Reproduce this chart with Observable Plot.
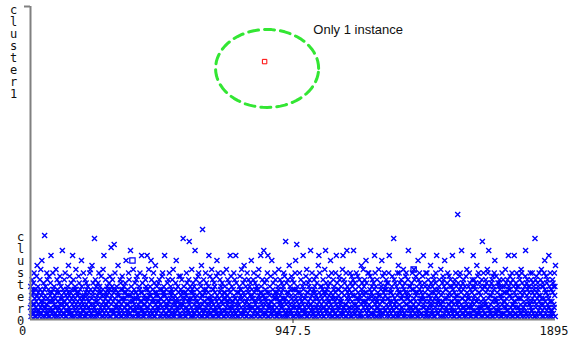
<!DOCTYPE html>
<html><head><meta charset="utf-8">
<script src="https://cdn.jsdelivr.net/npm/d3@7"></script>
<script src="https://cdn.jsdelivr.net/npm/@observablehq/plot@0.6"></script>
<style>html,body{margin:0;padding:0;background:#fff;}</style>
</head><body><div id="chart"></div>
<script>
// ---- data ----
const instanceCount = 1896;
const xTicks = [0, 947.5, 1895];
const xTickLabels = ["0", "947.5", "1895"];
const clusters = ["cluster0", "cluster1"];
// jitter height level (base 36) of every cluster0 instance, read row by row
const cluster0Levels = [
 "3a0571c249 8b1e406293 05d7g21a84 6201c93f57 1h48052b36 9o07a3142e 4c61095d28 07b3i52816 2e590a4173 61f038c925",
 "5083b1d462 a2706j4195 38c15e0274 0946a28g13 7d25180b69 14i07c3592 6a09f41837 2578d0b164 9031ha5276 4e62073c18",
 "0b49176a35 8352e0f914 16g078b243 3n90c52a61 5704b18e29 a1638d4072 29f05i1374 6c82047a95 1358b09d26 0k47a2c159",
 "82l16e3094 4a0378g512 7513c0b946 0d29615a83 36b08h4271 9042e7c153 1j73a08526 5f20946b38 28c61d0734 610a9e5382",
 "3i58b02146 07d41c9a63 5i29360f17 84a07h2c51 1936e05b28 0g4718a352 72b35c0964 46019d3e87 2a58i07143 9163b04c25",
 "5e0826a179 38c40f1625 0714b9h532 62a358d014 1d9073c846 4n52a18063 807e3b2159 2c6m415a08 63f0928b17 0a41j65c32",
 "79250d3e14 1b836a0g72 4q071c5928 52e39b0416 08a6i214d5 3617f05c92 940b2a8361 2d5h710e43 6038c19a25 15b74e0682",
 "0a82613f57 47c0519b36 8i23d05a14 3590e72c61 6i1b408352 2084a6d917 93f1605b28 1g7c342a05 50e6198c43 4a27b03h69",
 "7063c1e582 2b49051a36 9d13f72068 0i5a842c71 37j06b1495 61c28e0i34 0847a35d12 5h1039b726 42e8c61073 8061a9f524",
 "1c75308b46 39a0e26d51 6m04b1827c 0853g14a29 27d61c0395 4b093e7h61 9l52a08314 1e3806c725 50a4i92b16 3627d10f48",
 "08b53a1c94 6j2407e318 2519c0a863 7d03b4261g 1i58e03a27 4a6193c058 03f72j8b14 9265a0d371 5b1h840e26 370c29a615",
 "8e14i06b39 2079d3c541 6a5081f2i3 1c37b4092e 40j6a81573 9263e0b18d 05a7c3j421 7b1904e632 3d685a0c17 6102g49b85",
 "0f37a5c284 5h8b1036e2 2e4069d713 83a1c507b6 19i2e40a53 6c05837f21 4072b9a1h5 0d56183e92 7a29c04b61 3b6e0i5284",
 "9185a3d072 2n0c64b153 5a307e91g8 0e4b2816c3 6372a0f591 1b08d4e267 48c6j03a25 7a1503b9e2 2094f6c138 5d73a0821h",
 "0c42e9b561 8a1607d3i4 36b85a0e12 1e2093c7a5 7406g1b382 4a51d08c69 0b3e72i415 6918a5c024 2f47035b8d 5c0a1h6293",
 "9306b2e741 1d48a0c572 3a5i19204b 80c62e7a15 47v1b3059d 0e2a84j613 6b9c1037a2 25d04f8163 7a16e3b094 1038c5a2i6",
 "4c7a290b15 0g56d13e82 8b13a7054c 3m902e6a14 5a1c84b03f 9e06j32a71 2471b0c85d 0a93e6h152 6d15082b4a 3b2c79a016",
 "70e4a1c538 1a58f03b62 48c20i9a17 9d7b3160e4 2c04a5i813 57b19e0a36 0a3d62c184 6f1e0b7293 3850a4dj21 1b7c096a54",
 "8a14e03c25 2e68b1a907 5n0c34d186 0b9a27e513 7c41f60a2b 4a06e3h958 1d82b0c473 6i3a05e219 9052c8b1a4 3e7a0g1625"
];
// pixel height above the cluster0 line for each jitter level 0..35
const levelHeights = [3, 6, 9, 12, 15, 18, 21, 24, 27, 30,
  33, 36.4, 39.8, 43.2, 46.6, 50,
  54, 59, 64, 69,
  72, 75, 78, 81, 84, 87, 90, 93, 96, 99, 102, 105, 108, 111, 114, 117];
const cluster0SquareInstances = [18, 368, 1383];
const cluster0SquareLevels = [8, 17, 15];
const cluster1Instances = [845];
const cluster1Offsets = [-0.176];
const annotationText = "Only 1 instance";

// ---- build tables ----
const bandPx = 313;                 // pixel distance between the two clusters
const levelToY = l => levelHeights[l] / bandPx;
const levelStr = cluster0Levels.join("").replace(/\s+/g, "").slice(0, instanceCount);
const cluster0 = Array.from(levelStr, (c, i) => ({instance: i, y: levelToY(parseInt(c, 36))}));
const cluster0Sq = cluster0SquareInstances.map((v, i) => ({instance: v, y: levelToY(cluster0SquareLevels[i])}));
const cluster1 = cluster1Instances.map((v, i) => ({instance: v, y: 1 + cluster1Offsets[i]}));

// annotation ellipse around the single cluster1 instance
const ellCx = 854, ellCy = 0.802, ellRx = 186, ellRy = 0.1246;
const ellipse = d3.range(0, 73).map(k => {
  const t = k / 72 * 2 * Math.PI;
  return {x: ellCx + ellRx * Math.cos(t), y: ellCy + ellRy * Math.sin(t)};
});

const pxX = 1895 / 525;  // data units per pixel in x
const pxY = 1 / bandPx;

const chart = Plot.plot({
  width: 568, height: 342,
  marginLeft: 30, marginRight: 13, marginTop: 6, marginBottom: 23,
  x: {domain: [0, 1895], axis: null},
  y: {domain: [0, 1], axis: null},
  style: {fontFamily: "DejaVu Sans Mono", fontSize: "12px", background: "white", color: "black"},
  marks: [
    Plot.dot(cluster0, {x: "instance", y: "y", symbol: "times", r: 2.4, stroke: "#0000ff", strokeWidth: 1.4}),
    Plot.dot(cluster0Sq, {x: "instance", y: "y", symbol: "square", r: 3, stroke: "#0000ff", fill: "none", strokeWidth: 1.2}),
    Plot.dot(cluster1, {x: "instance", y: "y", symbol: "square", r: 2.5, stroke: "#ff0000", fill: "none", strokeWidth: 1}),
    Plot.line(ellipse, {x: "x", y: "y", stroke: "#33e633", strokeWidth: 3, strokeDasharray: "10,6", curve: "linear-closed"}),
    Plot.text([annotationText], {x: [1021], y: [0.926], textAnchor: "start", fontFamily: "Liberation Sans", fontSize: 13, fill: "#111"}),
    Plot.ruleX([0], {stroke: "#808080", strokeWidth: 2}),
    Plot.ruleY([0], {stroke: "#808080", strokeWidth: 2}),
    Plot.ruleY([1], {x1: -6 * pxX, x2: 0, stroke: "#808080", strokeWidth: 2}),
    Plot.ruleX([xTicks[1]], {y1: 0, y2: -4 * pxY, stroke: "#333", strokeWidth: 1}),
    ...xTicks.map((v, i) => Plot.text([xTickLabels[i]], {
      x: [v], y: [0], dy: 12, dx: [-8, 0, 13][i],
      textAnchor: ["middle", "middle", "end"][i], lineAnchor: "middle", fill: "#111"
    })),
    Plot.text([clusters[1]], {y: [1], text: d => d.split("").join("\n"), frameAnchor: "left", dx: -17, dy: -1,
      lineAnchor: "top", lineHeight: 1, textAnchor: "middle", fill: "#111"}),
    Plot.text([clusters[0]], {y: [0], text: d => d.split("").join("\n"), frameAnchor: "left", dx: -10, dy: 5,
      lineAnchor: "bottom", lineHeight: 1, textAnchor: "middle", fill: "#111"})
  ]
});
document.getElementById("chart").appendChild(chart);
</script>
</body></html>
